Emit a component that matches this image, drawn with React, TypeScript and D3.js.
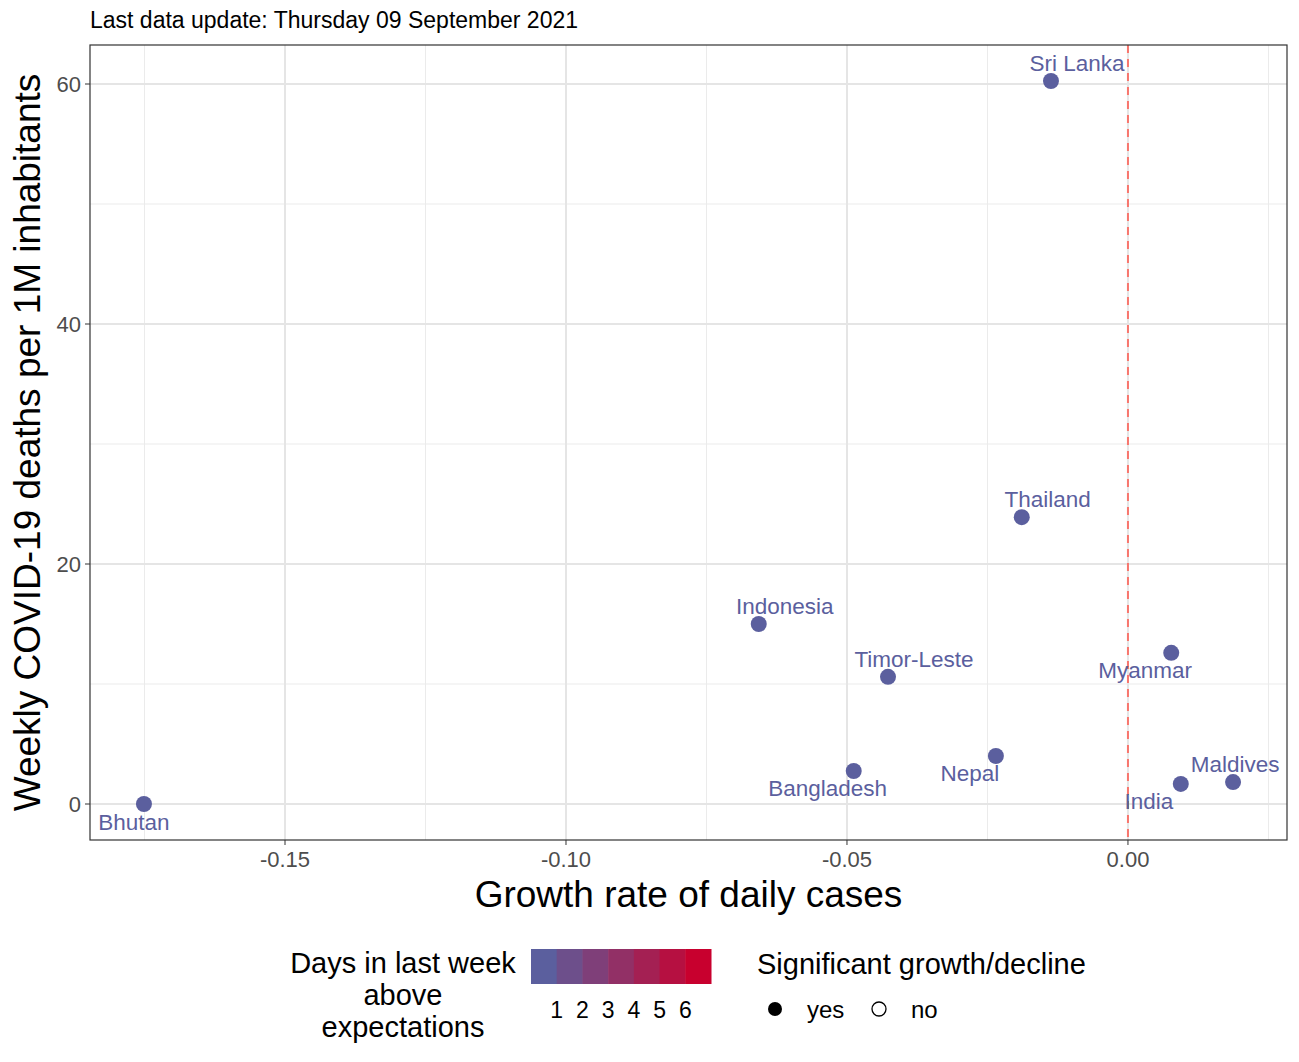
import React from "react";
import * as d3 from "d3";

const countries = ["Bhutan", "Bangladesh", "Indonesia", "Timor-Leste", "Nepal", "Thailand", "Sri Lanka", "Myanmar", "India", "Maldives"];
const growth = [-0.1751, -0.0488, -0.0657, -0.0427, -0.0235, -0.0189, -0.0137, 0.0077, 0.0094, 0.0187];
const deaths = [0, 2.75, 15, 10.6, 4, 23.9, 60.25, 12.6, 1.67, 1.83];
// label placement: [dx, dy] relative to the point
const labelOffsets: [number, number][] = [
  [-10, 26], [-26, 25], [26, -10], [26, -10], [-26, 25], [26, -10], [26, -10], [-26, 25], [-32, 25], [2, -10],
];
const xTicks = [-0.15, -0.1, -0.05, 0];
const yTicks = [0, 20, 40, 60];
const legendTicks = [1, 2, 3, 4, 5, 6];

const W = 1299, H = 1062;
const L = 90, R = 1287, T = 45, B = 840;
const pointColor = "#5b5f9e";
const font = "Liberation Sans, Arial, sans-serif";

export default function App() {
  const x = d3.scaleLinear().domain([-0.1847, 0.0283]).range([L, R]);
  const y = d3.scaleLinear().domain([-3, 63.25]).range([B, T]);
  const xMinor = d3.range(-0.175, 0.03, 0.025).filter((v) => !xTicks.some((t) => Math.abs(t - v) < 1e-9));
  const yMinor = [10, 30, 50];
  const legX = d3.scaleLinear().domain([0, 7]).range([531, 711]);
  const col = d3.interpolateRgb("#5b5f9e", "#c8002e");
  return (
    <svg width={W} height={H} style={{ position: "absolute", left: 0, top: 0 }} fontFamily={font}>
      <rect width={W} height={H} fill="white" />
      <text x={90} y={28} fontSize={23}>Last data update: Thursday 09 September 2021</text>
      {xMinor.map((v) => <line key={"xm" + v} x1={x(v)} x2={x(v)} y1={T} y2={B} stroke="#ebebeb" strokeWidth={1} />)}
      {yMinor.map((v) => <line key={"ym" + v} x1={L} x2={R} y1={y(v)} y2={y(v)} stroke="#ebebeb" strokeWidth={1} />)}
      {xTicks.map((v) => <line key={"x" + v} x1={x(v)} x2={x(v)} y1={T} y2={B} stroke="#e5e5e5" strokeWidth={2} />)}
      {yTicks.map((v) => <line key={"y" + v} x1={L} x2={R} y1={y(v)} y2={y(v)} stroke="#e5e5e5" strokeWidth={2} />)}
      <line x1={x(0)} x2={x(0)} y1={T} y2={B} stroke="#f8766d" strokeWidth={2} strokeDasharray="8,6" />
      {countries.map((c, i) => (
        <g key={c}>
          <circle cx={x(growth[i])} cy={y(deaths[i])} r={8} fill={pointColor} />
          <text x={x(growth[i]) + labelOffsets[i][0]} y={y(deaths[i]) + labelOffsets[i][1]} textAnchor="middle" fontSize={22.5} fill={pointColor}>{c}</text>
        </g>
      ))}
      <rect x={L} y={T} width={R - L} height={B - T} fill="none" stroke="#333" strokeWidth={1.2} />
      {xTicks.map((v) => (
        <g key={"xt" + v}>
          <line x1={x(v)} x2={x(v)} y1={B} y2={B + 5} stroke="#333" />
          <text x={x(v)} y={B + 27} textAnchor="middle" fontSize={22} fill="#4d4d4d">{d3.format(".2f")(v).replace("\u2212", "-")}</text>
        </g>
      ))}
      {yTicks.map((v) => (
        <g key={"yt" + v}>
          <line x1={L - 5} x2={L} y1={y(v)} y2={y(v)} stroke="#333" />
          <text x={L - 9} y={y(v) + 8} textAnchor="end" fontSize={22} fill="#4d4d4d">{v}</text>
        </g>
      ))}
      <text x={(L + R) / 2} y={907} textAnchor="middle" fontSize={37}>Growth rate of daily cases</text>
      <text transform={`translate(40,${(T + B) / 2}) rotate(-90)`} textAnchor="middle" fontSize={37}>Weekly COVID-19 deaths per 1M inhabitants</text>
      <g fontSize={29}>
        <text x={403} y={973} textAnchor="middle">Days in last week</text>
        <text x={403} y={1005} textAnchor="middle">above</text>
        <text x={403} y={1037} textAnchor="middle">expectations</text>
      </g>
      {d3.range(7).map((k) => (
        <rect key={k} x={legX(k)} y={949} width={legX(k + 1) - legX(k) + 0.5} height={35} fill={col(k / 6)} />
      ))}
      {legendTicks.map((t) => (
        <text key={t} x={legX(t)} y={1018} textAnchor="middle" fontSize={23}>{t}</text>
      ))}
      <text x={757} y={974} fontSize={29}>Significant growth/decline</text>
      <circle cx={775} cy={1009} r={7} fill="black" />
      <text x={807} y={1018} fontSize={24}>yes</text>
      <circle cx={879} cy={1009} r={7} fill="none" stroke="black" strokeWidth={1.3} />
      <text x={911} y={1018} fontSize={24}>no</text>
    </svg>
  );
}
